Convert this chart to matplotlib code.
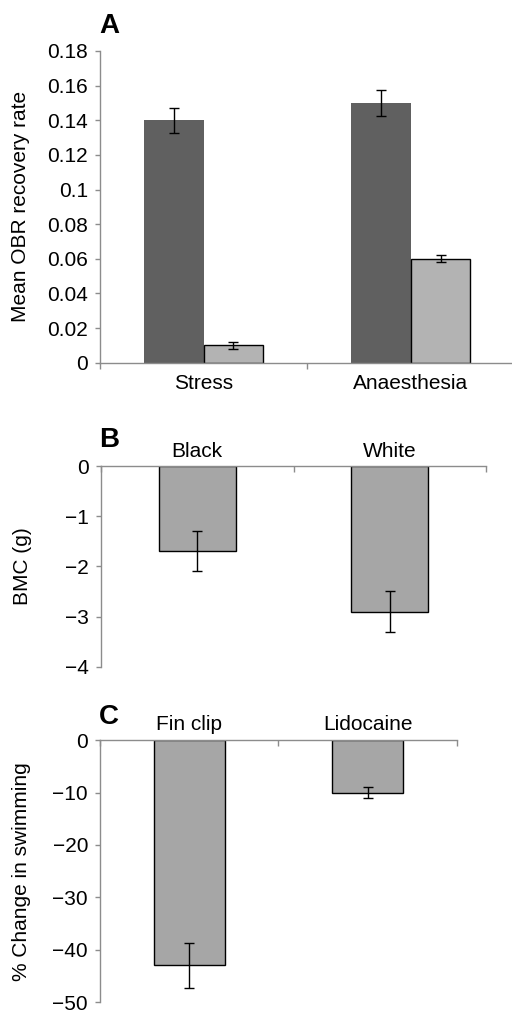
import matplotlib.pyplot as plt
import numpy as np

plt.rcParams['font.family'] = ['Liberation Sans', 'DejaVu Sans']
plt.rcParams['axes.unicode_minus'] = True

# Panel A: OBR recovery rate
a_groups = ['Stress', 'Anaesthesia']
a_dark = [0.14, 0.15]
a_dark_err = [0.0072, 0.0075]
a_light = [0.01, 0.06]
a_light_err = [0.002, 0.002]

# Panel B: BMC
b_groups = ['Black', 'White']
b_vals = [-1.7, -2.9]
b_err = [0.4, 0.4]

# Panel C: % change in swimming
c_groups = ['Fin clip', 'Lidocaine']
c_vals = [-43, -10]
c_err = [4.3, 1.0]

spine_col = '#8c8c8c'
fs = 15

fig = plt.figure(figsize=(5.12, 10.13), dpi=100)
W, H = 512, 1013


def add_ax(left, top, right, bottom):
    return fig.add_axes([left / W, 1 - bottom / H, (right - left) / W, (bottom - top) / H])


def style(ax, ngroups, top_axis, lab_pad):
    for s in ['right', 'top' if not top_axis else 'bottom']:
        ax.spines[s].set_visible(False)
    for s in ['left', 'top' if top_axis else 'bottom']:
        ax.spines[s].set_color(spine_col)
        ax.spines[s].set_linewidth(1)
    ax.set_xlim(0, ngroups)
    ax.set_xticks(np.arange(ngroups + 1))
    ax.set_xticklabels([])
    ax.set_xticks(np.arange(ngroups) + 0.5, minor=True)
    ax.tick_params(axis='x', which='major', length=4, color=spine_col, width=1,
                   direction='in' if top_axis else 'out',
                   top=top_axis, bottom=not top_axis)
    ax.tick_params(axis='x', which='minor', length=0, labelsize=fs,
                   top=top_axis, bottom=not top_axis,
                   labeltop=top_axis, labelbottom=not top_axis, pad=lab_pad)
    ax.tick_params(axis='y', length=3.6, color=spine_col, width=1, labelsize=fs, pad=5)


def ylab(ax, text, x):
    pos = ax.get_position()
    fig.text(x / W, (pos.y0 + pos.y1) / 2, text, rotation=90, fontsize=fs,
             ha='center', va='center')


ekw = dict(ecolor='black', elinewidth=1, capsize=3.5, capthick=1)

# ---- A ----
axA = add_ax(100, 51, 514.6, 362.7)
xa = np.arange(len(a_groups)) + 0.5
bw = 0.287
axA.bar(xa - bw / 2, a_dark, bw, color='#606060', yerr=a_dark_err, error_kw=ekw)
axA.bar(xa + bw / 2, a_light, bw, color='#b3b3b3', edgecolor='black', linewidth=1,
        yerr=a_light_err, error_kw=ekw)
style(axA, 2, False, 8)
axA.set_xticklabels(a_groups, minor=True)
axA.set_ylim(0, 0.18)
axA.set_yticks(np.arange(0, 0.181, 0.02))
axA.set_yticklabels(['0', '0.02', '0.04', '0.06', '0.08', '0.1', '0.12', '0.14', '0.16', '0.18'])
ylab(axA, 'Mean OBR recovery rate', 21)

# ---- B ----
axB = add_ax(101, 466, 486, 666.7)
xb = np.arange(len(b_groups)) + 0.5
axB.bar(xb, b_vals, 0.40, color='#a6a6a6', edgecolor='black', linewidth=1,
        yerr=b_err, error_kw=ekw)
style(axB, 2, True, 3.5)
axB.set_xticklabels(b_groups, minor=True)
axB.set_ylim(-4, 0)
axB.set_yticks([0, -1, -2, -3, -4])
ylab(axB, 'BMC (g)', 22)

# ---- C ----
axC = add_ax(100, 740.3, 456.7, 1002)
xc = np.arange(len(c_groups)) + 0.5
axC.bar(xc, c_vals, 0.40, color='#a6a6a6', edgecolor='black', linewidth=1,
        yerr=c_err, error_kw=ekw)
style(axC, 2, True, 4.7)
axC.set_xticklabels(c_groups, minor=True)
axC.set_ylim(-50, 0)
axC.set_yticks([0, -10, -20, -30, -40, -50])
ylab(axC, '% Change in swimming', 22)

for lab, y in [('A', 33.3), ('B', 447), ('C', 724.3)]:
    fig.text(99 / W, 1 - y / H, lab, fontsize=20, fontweight='bold', va='baseline', ha='left')

fig.savefig('out.png', dpi=100)
